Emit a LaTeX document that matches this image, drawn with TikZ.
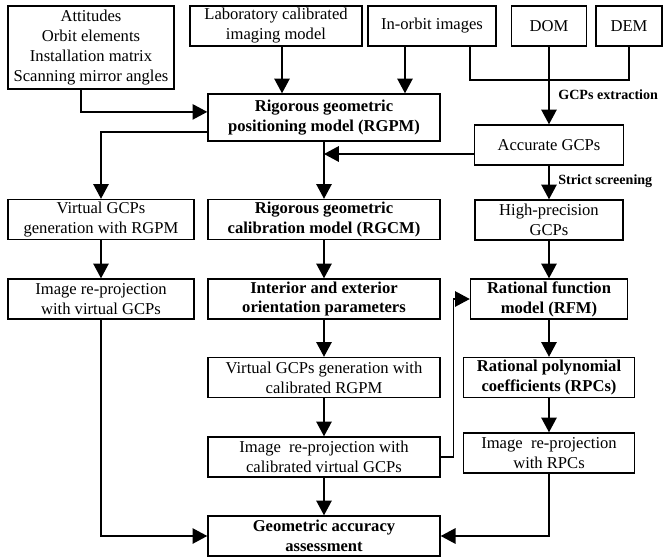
\documentclass[tikz,border=0pt]{standalone}
\usepackage{fontspec}
\setmainfont{Liberation Serif}
\usetikzlibrary{arrows.meta, positioning}
\tikzset{
	boxnode/.style={
			rectangle,
			draw=black,
			line width=1pt,
			align=center,
			inner sep=0pt,
			minimum height=1cm,
			font=\fontsize{11.8}{14.2}\selectfont
		},
	boldnode/.style={
			boxnode,
			font=\fontsize{11.8}{14.2}\selectfont\bfseries
		},
	flowline/.style={
			line width=1pt
		},
	steplabel/.style={
			right,
			xshift=1mm,
			font=\fontsize{10}{12}\selectfont\bfseries
		}
}

\begin{document}
\begin{tikzpicture}[x=0.025cm, y=-0.025cm, >={Triangle[length=10.5pt,width=11pt]}]
\useasboundingbox (0,0) rectangle (664,559);

\node[boxnode, minimum width=4.15cm, minimum height=2.075cm] (att) at (91,47.5) {Attitudes\\Orbit elements\\Installation matrix\\Scanning mirror angles};
\node[boxnode, minimum width=4.3cm] (lab) at (276,26) {Laboratory calibrated\\imaging model};
\node[boxnode, minimum width=3.2cm] (orbit) at (432,26) {In-orbit images};
\node[boxnode, minimum width=1.875cm] (dom) at (549,26) {DOM};
\node[boxnode, minimum width=1.65cm] (dem) at (629,26) {DEM};
\node[boldnode, minimum width=5.8cm, minimum height=1.175cm] (rgpm) at (324,117.5) {Rigorous geometric\\positioning model (RGPM)};
\node[boxnode, minimum width=3.725cm] (acc) at (549,145) {Accurate GCPs};
\node[boxnode, minimum width=4.65cm] (vgen) at (101,219.5) {Virtual GCPs\\generation with RGPM};
\node[boldnode, minimum width=5.8cm] (rgcm) at (324,219.5) {Rigorous geometric\\calibration model (RGCM)};
\node[boxnode, minimum width=3.7cm] (hp) at (549,220) {High-precision\\GCPs};
\node[boxnode, minimum width=4.65cm] (irv) at (101,299) {Image re-projection\\with virtual GCPs};
\node[boldnode, minimum width=5.8cm] (ieo) at (324,299) {Interior and exterior\\orientation parameters};
\node[boldnode, minimum width=3.925cm] (rfm) at (549,299) {Rational function\\model (RFM)};
\node[boxnode, minimum width=5.8cm] (vcal) at (324,377.5) {Virtual GCPs generation with\\calibrated RGPM};
\node[boldnode, minimum width=4.275cm] (rpc) at (549,377.5) {Rational polynomial\\coefficients (RPCs)};
\node[boxnode, minimum width=5.8cm] (ircal) at (324,457) {Image\ \ re-projection with\\calibrated virtual GCPs};
\node[boxnode, minimum width=4.275cm] (irrpc) at (549,453) {Image\ \ re-projection\\with RPCs};
\node[boldnode, minimum width=5.8cm] (geo) at (324,536) {Geometric accuracy\\assessment};

\coordinate (jct) at (549,80);

% inputs to RGPM
\draw[flowline, ->] ([xshift=-2.5mm]att.south) |- ([yshift=1.4mm]rgpm.west);
\draw[flowline, ->] ([xshift=1.5mm]lab.south) -- ([xshift=1.5mm]lab.south |- rgpm.north);
\draw[flowline, ->] ([xshift=-6.75mm]orbit.south) -- ([xshift=-6.75mm]orbit.south |- rgpm.north);

% GCPs
\draw[flowline] ([xshift=9.5mm]orbit.south) |- (jct) -| (dem.south);
\draw[flowline, ->] (dom.south) -- (acc.north) node[steplabel, pos=0.62] {GCPs extraction};
\draw[flowline, ->] ([yshift=-2.25mm]acc.west) -- ([yshift=-2.25mm]acc.west -| rgpm.south);
\draw[flowline, ->] (acc.south) -- (hp.north) node[steplabel, pos=0.45] {Strict screening};

% left column
\draw[flowline, ->] ([yshift=-3.6mm]rgpm.west) -| (vgen.north);
\draw[flowline, ->] (vgen) -- (irv);
\draw[flowline, ->] (irv.south) |- (geo.west);

% middle column
\draw[flowline, ->] (rgpm) -- (rgcm);
\draw[flowline, ->] (rgcm) -- (ieo);
\draw[flowline, ->] (ieo) -- (vcal);
\draw[flowline, ->] (vcal) -- (ircal);
\draw[flowline, ->] (ircal) -- (geo);
\draw[flowline, ->] (ircal.east) -- ++(13,0) |- (rfm.west);

% right column
\draw[flowline, ->] (hp) -- (rfm);
\draw[flowline, ->] (rfm) -- (rpc);
\draw[flowline, ->] (rpc) -- (irrpc);
\draw[flowline, ->] (irrpc.south) |- (geo.east);
\end{tikzpicture}
\end{document}
